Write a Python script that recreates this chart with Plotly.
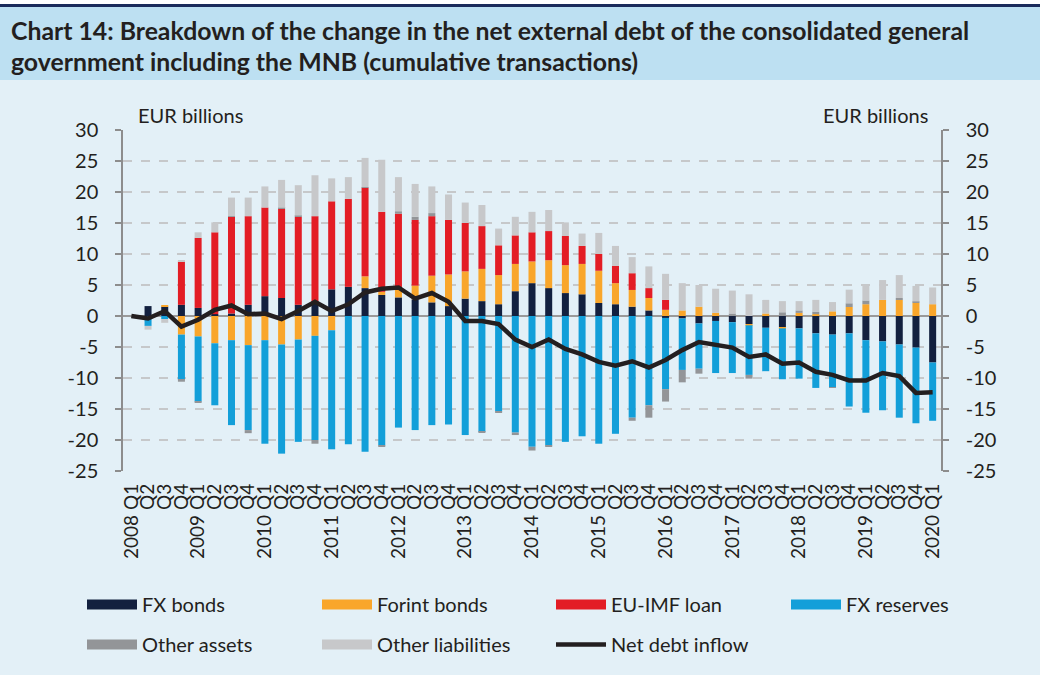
import plotly.graph_objects as go

# ---------------- data ----------------
years = list(range(2008, 2021))
quarters = []
for y in years:
    for q in range(1, 5):
        if y == 2020 and q > 1:
            break
        quarters.append(f"{y} Q{q}")
tick_text = [lbl if lbl.endswith("Q1") else lbl.split(" ")[1] for lbl in quarters]

y_ticks = [-25, -20, -15, -10, -5, 0, 5, 10, 15, 20, 25, 30]
y_tick_text = [str(v) for v in y_ticks]

fx_bonds = [0, 1.6, 1.5, 1.8,
            1.3, 0.3, 0.4, 1.8,
            3.2, 2.9, 1.8, 2.4,
            4.3, 4.7, 4.5, 3.4,
            3.0, 2.7, 2.2, 1.6,
            2.8, 2.4, 1.9, 4.0,
            5.3, 4.5, 3.7, 3.5,
            2.1, 1.9, 1.5, 0.9,
            -0.3, -0.4, -1.2, -0.8,
            -1.0, -1.3, -1.9, -1.8,
            -2.0, -2.8, -3.0, -2.8,
            -3.9, -4.1, -4.6, -5.1,
            -7.5]
forint_bonds = [0, 0, 0.25, -3.0,
                -3.3, -4.4, -3.9, -4.7,
                -3.9, -4.6, -3.8, -3.2,
                -2.3, 0, 1.9, 0.5,
                1.4, 2.2, 4.3, 5.1,
                4.4, 5.2, 4.7, 4.4,
                3.5, 4.5, 4.5, 4.9,
                5.2, 3.4, 2.7, 2.0,
                1.0, 0.9, 1.5, 0.5,
                0, -0.2, 0.4, -0.2,
                0.5, 0.3, 0.75, 1.45,
                1.9, 2.6, 2.6, 2.15,
                1.9]
eu_imf = [0, 0, 0, 7.0,
          11.3, 13.2, 15.6, 14.3,
          14.3, 14.4, 14.2, 13.7,
          14.2, 14.2, 14.3, 12.9,
          12.1, 10.6, 9.6, 8.8,
          7.8, 6.9, 4.8, 4.6,
          4.7, 4.7, 4.7, 2.9,
          2.7, 2.8, 2.7, 1.6,
          1.6, 0, 0, 0,
          0, 0, 0, 0,
          0, 0, 0, 0,
          0, 0, 0, 0,
          0]
fx_reserves = [0, -1.6, -0.5, -7.3,
               -10.5, -10.0, -13.7, -13.7,
               -16.7, -17.6, -16.5, -16.8,
               -19.2, -20.7, -21.9, -20.9,
               -18.0, -18.4, -17.6, -17.5,
               -19.2, -18.7, -15.4, -18.8,
               -21.1, -20.9, -20.3, -19.4,
               -20.6, -19.0, -16.4, -14.4,
               -11.5, -8.3, -7.3, -8.4,
               -8.2, -8.0, -7.0, -8.2,
               -8.1, -8.8, -8.5, -11.8,
               -11.7, -11.1, -11.8, -12.2,
               -9.4]
other_assets = [0, 0, 0, -0.3,
                -0.2, 0, 0.1, -0.5,
                0, 0.15, 0.2, -0.6,
                0, 0, 0.1, -0.2,
                0.4, 0.5, 0.5, 0,
                0, -0.1, -0.2, -0.4,
                -0.6, -0.2, 0, 0,
                0, 0, -0.5, -2.0,
                -2.0, -2.0, -0.8, 0,
                0.4, -0.6, 0, 0.6,
                0.4, 0.4, -0.1, 0.6,
                0.6, 0, 0.3, 0.2,
                0]
other_liabilities = [0, -0.6, -0.6, 0.1,
                     0.9, 1.6, 3.0, 3.0,
                     3.4, 4.5, 4.9, 6.6,
                     3.7, 3.5, 4.7, 8.4,
                     5.5, 5.3, 4.3, 4.1,
                     3.3, 3.4, 2.7, 3.0,
                     3.3, 3.4, 2.2, 2.0,
                     3.4, 3.2, 2.6, 3.5,
                     4.2, 4.4, 3.5, 3.9,
                     3.7, 3.5, 2.2, 1.8,
                     1.5, 1.9, 1.5, 2.2,
                     2.6, 3.2, 3.7, 2.5,
                     2.7]
net_debt_inflow = [0, -0.4, 0.8, -1.7,
                   -0.6, 1.0, 1.7, 0.3,
                   0.4, -0.5, 0.8, 2.3,
                   0.8, 1.9, 3.8, 4.4,
                   4.6, 2.8, 3.7, 2.3,
                   -0.8, -0.8, -1.3, -3.8,
                   -5.0, -3.8, -5.3, -6.2,
                   -7.4, -8.0, -7.3, -8.3,
                   -7.1, -5.5, -4.2, -4.7,
                   -5.1, -6.6, -6.2, -7.7,
                   -7.5, -9.0, -9.5, -10.4,
                   -10.4, -9.2, -9.7, -12.4,
                   -12.3]

series = [
    ("FX bonds", fx_bonds, "#12203f"),
    ("Forint bonds", forint_bonds, "#f9a62b"),
    ("EU-IMF loan", eu_imf, "#e31d25"),
    ("FX reserves", fx_reserves, "#139fd9"),
    ("Other assets", other_assets, "#939598"),
    ("Other liabilities", other_liabilities, "#c7c8ca"),
]

# ---------------- layout geometry ----------------
W, H = 1040, 675
L, R, T, B = 123, 99, 130, 204
PW, PH = W - L - R, H - T - B


def px2x(px):
    return (px - L) / PW


def px2y(py):
    return (H - B - py) / PH


FONT = "Lato"
TXT = "#231f20"
BG = "#e3f0f7"

fig = go.Figure()

for name, vals, col in series:
    fig.add_trace(go.Bar(x=quarters, y=vals, name=name, marker_color=col,
                         marker_line_width=0, showlegend=False))

# legend slots: (column x of swatch start, row y centre) -> one legend each
col_x = [88, 323, 557, 792]
row_y = [605, 645]
slots = [(0, 0), (1, 0), (2, 0), (3, 0), (0, 1), (1, 1), (2, 1)]
legend_ids = ["legend"] + [f"legend{i}" for i in range(2, 8)]

for i, (name, vals, col) in enumerate(series):
    fig.add_trace(go.Scatter(x=[None], y=[None], mode="lines", name=name,
                             line=dict(color=col, width=13), legend=legend_ids[i],
                             hoverinfo="skip"))

fig.add_trace(go.Scatter(x=quarters, y=net_debt_inflow, name="Net debt inflow",
                         mode="lines", line=dict(color=TXT, width=4.5),
                         legend=legend_ids[6], yaxis="y2"))

legend_layout = {}
for lid, (c, r) in zip(legend_ids, slots):
    legend_layout[lid] = dict(
        orientation="h", x=px2x(col_x[c] - 6), y=px2y(row_y[r] - 20),
        xanchor="left", yanchor="top", itemwidth=50,
        bgcolor="rgba(0,0,0,0)", font=dict(family=FONT, size=20, color=TXT),
        itemclick=False, itemdoubleclick=False)

shapes = [
    dict(type="rect", xref="paper", yref="paper", x0=px2x(0), x1=px2x(W),
         y0=px2y(4), y1=px2y(0), fillcolor="white", line_width=0, layer="below"),
    dict(type="rect", xref="paper", yref="paper", x0=px2x(0), x1=px2x(W),
         y0=px2y(7), y1=px2y(4), fillcolor="#1b2b5b", line_width=0, layer="below"),
    dict(type="rect", xref="paper", yref="paper", x0=px2x(0), x1=px2x(W),
         y0=px2y(80), y1=px2y(7), fillcolor="#bde0f2", line_width=0, layer="below"),
]

annotations = [
    dict(text="<b>Chart 14: Breakdown of the change in the net external debt of the consolidated general</b>",
         xref="paper", yref="paper", x=px2x(9), y=px2y(30), xanchor="left", yanchor="middle",
         showarrow=False, font=dict(family=FONT, size=24.8, color=TXT)),
    dict(text="<b>government including the MNB (cumulative transactions)</b>",
         xref="paper", yref="paper", x=px2x(9), y=px2y(62), xanchor="left", yanchor="middle",
         showarrow=False, font=dict(family=FONT, size=24.8, color=TXT)),
    dict(text="EUR billions", xref="paper", yref="paper", x=px2x(136), y=px2y(115),
         xanchor="left", yanchor="middle", showarrow=False,
         font=dict(family=FONT, size=20, color=TXT)),
    dict(text="EUR billions", xref="paper", yref="paper", x=px2x(930), y=px2y(115),
         xanchor="right", yanchor="middle", showarrow=False,
         font=dict(family=FONT, size=20, color=TXT)),
]

yax = dict(range=[-25, 30], tickmode="array", tickvals=y_ticks, ticktext=y_tick_text,
           showgrid=True, gridcolor="#c6c8ca",
           griddash="dash", gridwidth=1.5, zeroline=True, zerolinecolor="#9a9a9a",
           zerolinewidth=2, showline=True, linecolor="#8d8d8d", linewidth=1.5,
           ticks="outside", ticklen=6, tickwidth=1.5, tickcolor="#8d8d8d",
           ticklabelstandoff=13,
           tickfont=dict(family=FONT, size=20, color=TXT), fixedrange=True)

fig.update_layout(
    width=W, height=H,
    margin=dict(l=L, r=R, t=T, b=B, autoexpand=False),
    paper_bgcolor=BG, plot_bgcolor=BG,
    barmode="relative", bargap=0.58,
    font=dict(family=FONT, color=TXT),
    xaxis=dict(type="category", range=[-0.5, len(quarters) - 0.5], tickmode="array",
               tickvals=quarters, ticktext=tick_text, tickangle=-90,
               tickfont=dict(family=FONT, size=19, color=TXT), showgrid=False,
               showline=False, ticks="", ticklabelstandoff=8, fixedrange=True),
    yaxis=yax,
    yaxis2=dict(yax, overlaying="y", side="right", showgrid=False, zeroline=False),
    shapes=shapes,
    annotations=annotations,
    showlegend=True,
    **legend_layout,
)

fig.write_html("out.html", config={"displayModeBar": False},
               post_script="document.body.style.margin='0';document.body.style.padding='0';")
